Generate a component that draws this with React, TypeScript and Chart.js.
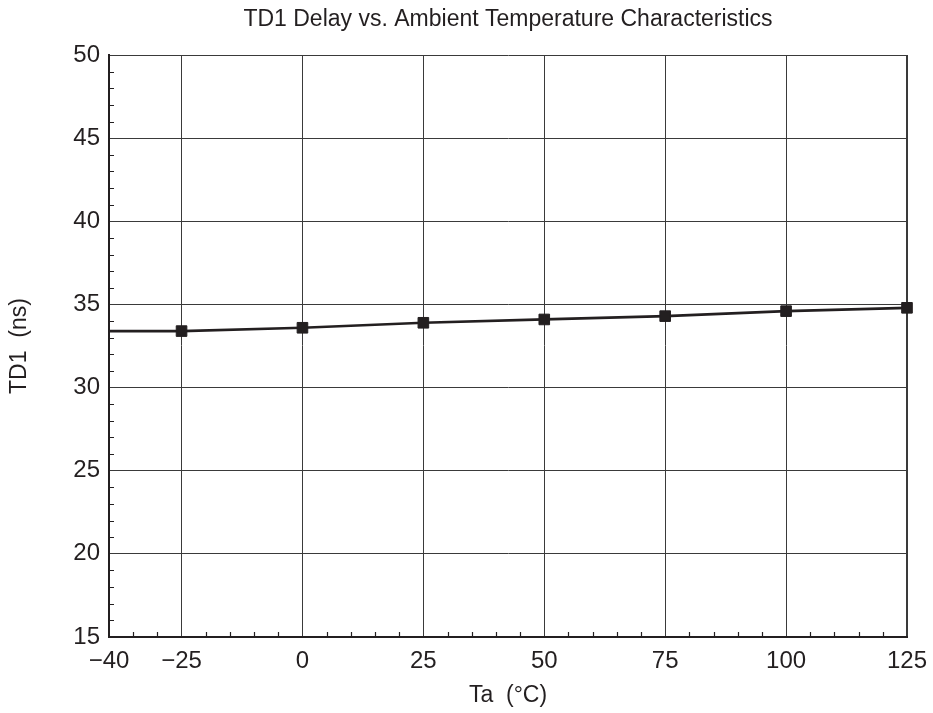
import React, { useEffect, useRef } from "react";
import { Chart, registerables } from "chart.js";

Chart.register(...registerables);

const temperatures = [-40, -25, 0, 25, 50, 75, 100, 125];
const td1Values = [33.4, 33.4, 33.6, 33.9, 34.1, 34.3, 34.6, 34.8];
const pointRadii = [0, 7.5, 7.5, 7.5, 7.5, 7.5, 7.5, 7.5];
const xMajorTicks = [-40, -25, 0, 25, 50, 75, 100, 125];
const yMajorTicks = [15, 20, 25, 30, 35, 40, 45, 50];

const FONT = "'Liberation Sans', Arial, Helvetica, sans-serif";
const INK = "#231f20";
const GRID = "#3a3a3a";

const fmt = (v: number) => (v < 0 ? "\u2212" + Math.abs(v) : String(v));

const minorTicksPlugin = {
  id: "minorTicks",
  afterDraw(chart: any) {
    const { ctx, chartArea, scales } = chart;
    const x = scales.x;
    const y = scales.y;
    ctx.save();
    ctx.strokeStyle = INK;
    ctx.lineWidth = 1.2;
    ctx.beginPath();
    for (let v = -40; v <= 125; v += 5) {
      if (xMajorTicks.includes(v)) continue;
      const px = Math.round(x.getPixelForValue(v)) + 0.5;
      ctx.moveTo(px, chartArea.bottom);
      ctx.lineTo(px, chartArea.bottom - 5);
    }
    for (let v = 15; v <= 50; v += 1) {
      if (yMajorTicks.includes(v)) continue;
      const py = Math.round(y.getPixelForValue(v)) + 0.5;
      ctx.moveTo(chartArea.left, py);
      ctx.lineTo(chartArea.left + 5, py);
    }
    ctx.stroke();
    ctx.restore();
  },
};

export default function App() {
  const ref = useRef<HTMLCanvasElement>(null);
  useEffect(() => {
    if (!ref.current) return;
    const chart = new Chart(ref.current, {
      type: "line",
      data: {
        datasets: [
          {
            data: temperatures.map((t, i) => ({ x: t, y: td1Values[i] })),
            borderColor: INK,
            backgroundColor: INK,
            borderWidth: 2.7,
            pointStyle: "rect",
            pointRadius: pointRadii,
            pointBorderWidth: 1,
            pointBorderColor: INK,
            pointBackgroundColor: INK,
            tension: 0,
            clip: false as any,
          },
        ],
      },
      options: {
        animation: false,
        responsive: false,
        layout: { padding: { left: 0, right: 0, top: 0, bottom: 0 } },
        plugins: {
          legend: { display: false },
          tooltip: { enabled: false },
          title: {
            display: true,
            fullSize: false,
            text: "TD1 Delay vs. Ambient Temperature Characteristics",
            color: INK,
            font: { family: FONT, size: 23, weight: "normal" },
            padding: { top: 5.5, bottom: 22 },
          },
        },
        scales: {
          x: {
            type: "linear",
            min: -40,
            max: 125,
            afterBuildTicks: (scale: any) => {
              const t = [];
              for (let v = -40; v <= 125; v += 5) t.push({ value: v });
              scale.ticks = t;
            },
            afterFit: (scale: any) => {
              scale.height = 76;
              scale.paddingRight = 26;
              scale.paddingLeft = 0;
            },
            grid: {
              drawTicks: false,
              color: (c: any) =>
                c.tick && xMajorTicks.includes(c.tick.value) && c.tick.value !== -40
                  ? GRID
                  : "rgba(0,0,0,0)",
              lineWidth: (c: any) => (c.tick && c.tick.value === 125 ? 2 : 1),
            },
            border: { color: INK, width: 2 },
            ticks: {
              autoSkip: false,
              maxRotation: 0,
              padding: 10,
              color: INK,
              font: { family: FONT, size: 24 },
              callback: (v: any) => (xMajorTicks.includes(Number(v)) ? fmt(Number(v)) : ""),
            },
            title: {
              display: true,
              text: "Ta  (\u00B0C)",
              color: INK,
              font: { family: FONT, size: 23 },
              padding: { top: 0, bottom: 4 },
            },
          },
          y: {
            type: "linear",
            min: 15,
            max: 50,
            afterBuildTicks: (scale: any) => {
              const t = [];
              for (let v = 15; v <= 50; v += 1) t.push({ value: v });
              scale.ticks = t;
            },
            afterFit: (scale: any) => {
              scale.width = 109;
            },
            grid: {
              drawTicks: false,
              color: (c: any) =>
                c.tick && yMajorTicks.includes(c.tick.value) && c.tick.value !== 15
                  ? GRID
                  : "rgba(0,0,0,0)",
              lineWidth: 1,
            },
            border: { color: INK, width: 2 },
            ticks: {
              autoSkip: false,
              padding: 9,
              color: INK,
              font: { family: FONT, size: 24 },
              callback: (v: any) => (yMajorTicks.includes(Number(v)) ? fmt(Number(v)) : ""),
            },
            title: {
              display: true,
              text: "TD1  (ns)",
              color: INK,
              font: { family: FONT, size: 23 },
              padding: { top: 5.5, bottom: 0 },
            },
          },
        },
      },
      plugins: [minorTicksPlugin],
    } as any);
    return () => chart.destroy();
  }, []);
  return (
    <div style={{ position: "fixed", left: 0, top: 0, width: 933, height: 713, background: "#fff" }}>
      <canvas ref={ref} width={933} height={713} style={{ display: "block" }} />
    </div>
  );
}
